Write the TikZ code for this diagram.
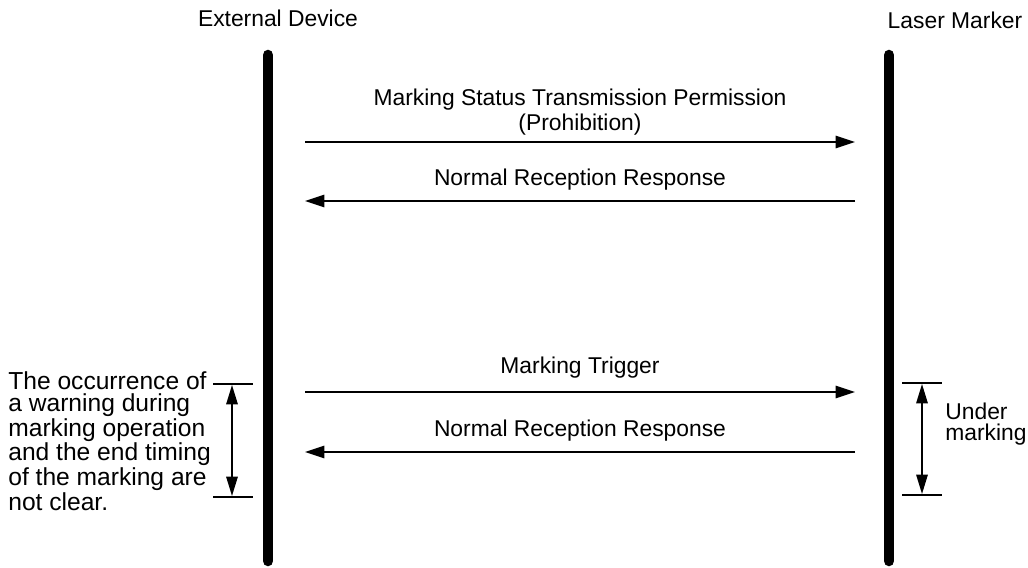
\documentclass[tikz,border=0pt]{standalone}
\usepackage{fontspec}
\setmainfont{Liberation Sans}
\usepackage{tikz}
\usetikzlibrary{positioning}
\usetikzlibrary{arrows.meta}

\begin{document}
\begin{tikzpicture}[x=0.02cm, y=-0.02cm,
		font=\fontsize{13}{14}\selectfont,
		lifeline/.style={line width=6pt, line cap=round},
		msg/.style={line width=0.9pt, -{Triangle[length=11pt, width=7pt]}},
		span/.style={line width=0.9pt, {Triangle[length=11pt, width=6.5pt]}-{Triangle[length=11pt, width=6.5pt]}},
		tick/.style={line width=0.9pt},
		sidenote/.style={font=\fontsize{14}{12.6}\selectfont, align=left, inner sep=0pt}]
		\useasboundingbox (0,0) rectangle (1028,568);

		% Headers and lifelines
		\node (dev) at (278,18) {External Device};
		\node (lm) at (955,20) {Laser Marker};
		\coordinate (devtop) at (268,55);
		\coordinate (devbot) at (268,561);
		\coordinate (lmtop) at (889,55);
		\coordinate (lmbot) at (889,561);
		\draw[lifeline] (devtop) -- (devbot);
		\draw[lifeline] (lmtop) -- (lmbot);

		% Message end points
		\foreach \i/\y in {1/142, 2/201, 3/392, 4/452} {
				\coordinate (a\i) at (305,\y);
				\coordinate (b\i) at (855,\y);
			}

		% Messages
		\draw[msg] (a1) -- (b1);
		\node[align=center] (perm) at (580,112) {Marking Status Transmission Permission\\(Prohibition)};
		\draw[msg] (b2) -- (a2);
		\node (resp1) at (580,180) {Normal Reception Response};
		\draw[msg] (a3) -- (b3);
		\node (trig) at (580,368) {Marking Trigger};
		\draw[msg] (b4) -- (a4);
		\node (resp2) at (580,431) {Normal Reception Response};

		% Left span
		\coordinate (lt1) at (213,384);
		\coordinate (lt2) at (253,384);
		\coordinate (lb1) at (213,497);
		\coordinate (lb2) at (253,497);
		\draw[tick] (lt1) -- (lt2);
		\draw[tick] (lb1) -- (lb2);
		\draw[span] (232,385) coordinate (ls1) -- (232,496) coordinate (ls2);
		\node[sidenote, anchor=north west] (note) at (8,371)
			{The occurrence of\\a warning during\\marking operation\\and the end timing\\of the marking are\\not clear.};

		% Right span
		\coordinate (rt1) at (902,383);
		\coordinate (rt2) at (942,383);
		\coordinate (rb1) at (902,495);
		\coordinate (rb2) at (942,495);
		\draw[tick] (rt1) -- (rt2);
		\draw[tick] (rb1) -- (rb2);
		\draw[span] (922,384) coordinate (rs1) -- (922,494) coordinate (rs2);
		\node[sidenote, font=\fontsize{13}{12.4}\selectfont, anchor=west] (under) at (945,424) {Under\\marking};
	\end{tikzpicture}
\end{document}
